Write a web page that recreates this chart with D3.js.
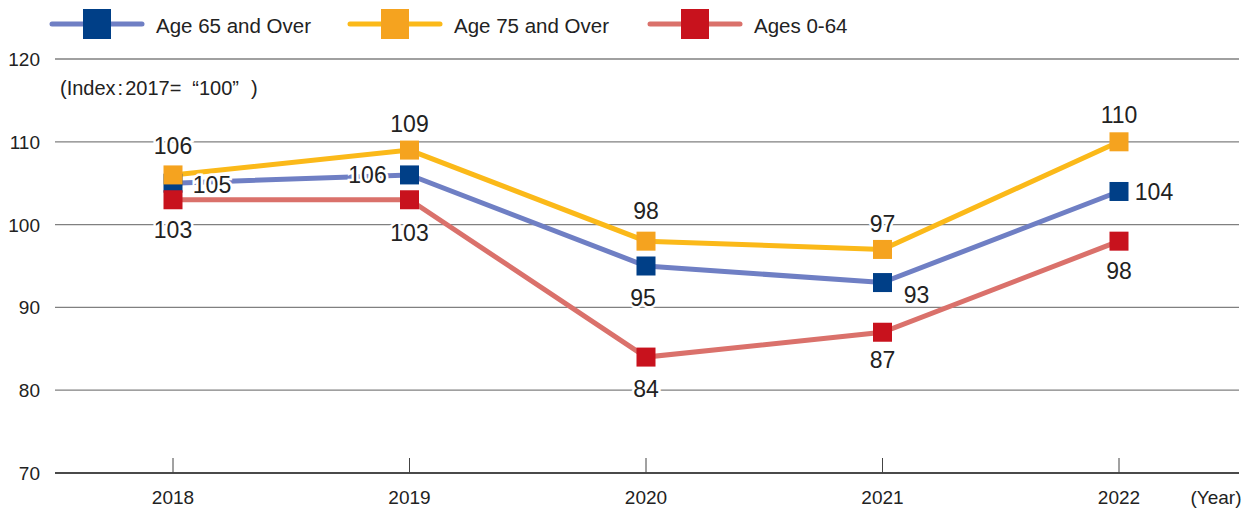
<!DOCTYPE html>
<html>
<head>
<meta charset="utf-8">
<script src="https://cdn.jsdelivr.net/npm/d3@7"></script>
<style>
  body { margin: 0; background: #fff; }
  svg text { font-family: "Liberation Sans", Arial, sans-serif; fill: #222; }
</style>
</head>
<body>
<div id="chart"></div>
<script>
const width = 1253, height = 508;

// data
const years = ["2018", "2019", "2020", "2021", "2022"];
const age65 = [105, 106, 95, 93, 104];
const age75 = [106, 109, 98, 97, 110];
const age0to64 = [103, 103, 84, 87, 98];
const yTicks = [70, 80, 90, 100, 110, 120];

// label placement per point: dx, baseline offset from marker centre
const series = [
  { name: "Age 65 and Over", values: age65, line: "#6f7fc4", mark: "#003f87",
    lab: [[39, 10], [-42, 8], [-3, 40], [34, 20], [35, 9]] },
  { name: "Ages 0-64", values: age0to64, line: "#da716b", mark: "#c8121d",
    lab: [[0, 38], [0, 41], [0, 40], [0, 36], [0, 38]] },
  { name: "Age 75 and Over", values: age75, line: "#fbb919", mark: "#f5a31f",
    lab: [[0, -21], [0, -18], [0, -22], [0, -17], [0, -19]] }
];
const legendOrder = [0, 2, 1];

const svg = d3.select("#chart").append("svg")
  .attr("width", width).attr("height", height);

const x = d3.scalePoint().domain(years).range([173, 1119]);
const y = d3.scaleLinear().domain([70, 120]).range([473, 59]);

// grid
svg.append("g").selectAll("line")
  .data(yTicks.slice(1))
  .join("line")
  .attr("x1", 55).attr("x2", 1239)
  .attr("y1", d => y(d)).attr("y2", d => y(d))
  .attr("stroke", "#808080").attr("stroke-width", 1.3);

// bottom axis line
svg.append("line")
  .attr("x1", 55).attr("x2", 1239)
  .attr("y1", y(70)).attr("y2", y(70))
  .attr("stroke", "#4a4a4a").attr("stroke-width", 2);

svg.append("g").selectAll("line")
  .data(years)
  .join("line")
  .attr("x1", d => x(d)).attr("x2", d => x(d))
  .attr("y1", y(70) - 15).attr("y2", y(70))
  .attr("stroke", "#444").attr("stroke-width", 1);

// y tick labels
svg.append("g").selectAll("text")
  .data(yTicks)
  .join("text")
  .attr("x", 40).attr("y", d => y(d) + 7)
  .attr("text-anchor", "end")
  .attr("font-size", 19)
  .text(d => d);

// x labels
svg.append("g").selectAll("text")
  .data(years)
  .join("text")
  .attr("x", d => x(d)).attr("y", 504)
  .attr("text-anchor", "middle")
  .attr("font-size", 19)
  .text(d => d);

svg.append("text").attr("x", 1216).attr("y", 504)
  .attr("text-anchor", "middle").attr("font-size", 19).text("(Year)");

const note = svg.append("text").attr("x", 60).attr("y", 95)
  .attr("font-size", 20);
note.append("tspan").text("(Index");
note.append("tspan").attr("dx", 2).text(":");
note.append("tspan").attr("dx", 2).text("2017=");
note.append("tspan").attr("dx", 11).text("\u201C100\u201D");
note.append("tspan").attr("dx", 12).text(")");

// lines
const line = d3.line().x((d, i) => x(years[i])).y(d => y(d));

series.forEach(s => {
  svg.append("path")
    .datum(s.values)
    .attr("d", line)
    .attr("fill", "none")
    .attr("stroke", s.line)
    .attr("stroke-width", 5);
});

// markers
const ms = 19;
series.forEach(s => {
  svg.append("g").selectAll("rect")
    .data(s.values)
    .join("rect")
    .attr("x", (d, i) => x(years[i]) - ms / 2)
    .attr("y", d => y(d) - ms / 2)
    .attr("width", ms).attr("height", ms)
    .attr("fill", s.mark);
});

// value labels
series.forEach(s => {
  svg.append("g").selectAll("text")
    .data(s.values)
    .join("text")
    .attr("x", (d, i) => x(years[i]) + s.lab[i][0])
    .attr("y", (d, i) => y(d) + s.lab[i][1])
    .attr("text-anchor", "middle")
    .attr("font-size", 23)
    .attr("stroke", "#fff").attr("stroke-width", 5)
    .attr("paint-order", "stroke")
    .text(d => d);
});

// legend
const legendX = [50, 348, 648];
legendOrder.forEach((k, j) => {
  const s = series[k];
  const g = svg.append("g").attr("transform", `translate(${legendX[j]},24)`);
  g.append("line").attr("x1", 2).attr("x2", 92).attr("y1", 0).attr("y2", 0)
    .attr("stroke", s.line).attr("stroke-width", 5).attr("stroke-linecap", "round");
  g.append("rect").attr("x", 33).attr("y", -15).attr("width", 28).attr("height", 30)
    .attr("fill", s.mark);
  g.append("text").attr("x", 106).attr("y", 9).attr("font-size", 20.5).text(s.name);
});
</script>
</body>
</html>
